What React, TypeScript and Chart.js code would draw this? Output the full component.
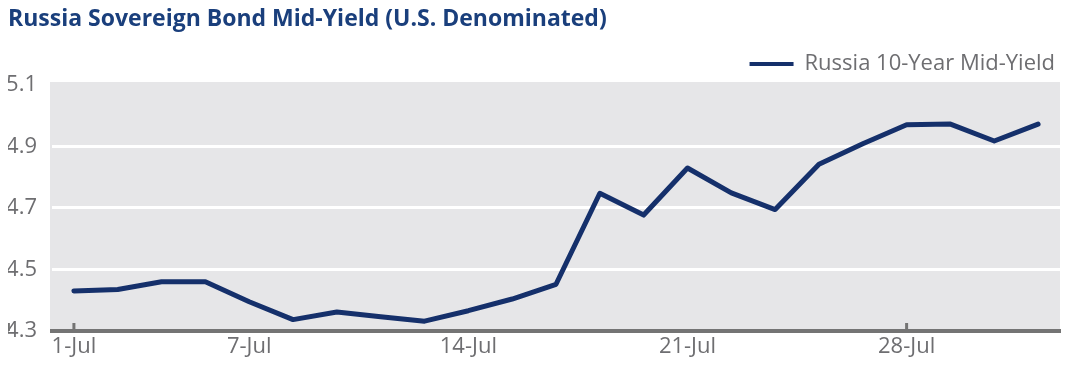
import React, { useEffect, useRef } from "react";
import { Chart, registerables } from "chart.js";

Chart.register(...registerables);

const TITLE = "Russia Sovereign Bond Mid-Yield (U.S. Denominated)";
const SERIES_NAME = "Russia 10-Year Mid-Yield";

// 23 trading days; only some carry a visible date label
const categories = [
  "1-Jul", "", "", "", "7-Jul",
  "", "", "", "", "14-Jul",
  "", "", "", "", "21-Jul",
  "", "", "", "", "28-Jul",
  "", "", "",
];

const yields = [
  4.43, 4.435, 4.46, 4.46, 4.395,
  4.337, 4.362, 4.346, 4.332, 4.366,
  4.404, 4.452, 4.748, 4.677, 4.83,
  4.749, 4.695, 4.842, 4.909, 4.971,
  4.973, 4.918, 4.973,
];

const yTicks = [4.3, 4.5, 4.7, 4.9, 5.1];

const NAVY = "#15306b";
const TITLE_COLOR = "#1a3f7c";
const GRAY_TEXT = "#6e6e71";
const AXIS = "#747474";
const PLOT_BG = "#e6e6e8";
const FONT = "'Open Sans', 'DejaVu Sans', sans-serif";

const bgPlugin = {
  id: "plotBg",
  beforeDraw(chart: any) {
    const { ctx, chartArea } = chart;
    ctx.save();
    ctx.fillStyle = PLOT_BG;
    ctx.fillRect(chartArea.left - 2, chartArea.top - 3, chartArea.right - chartArea.left + 2, chartArea.bottom - chartArea.top + 3);
    ctx.restore();
  },
};

const tickMarkPlugin = {
  id: "innerTicks",
  afterDraw(chart: any) {
    const { ctx, chartArea } = chart;
    const xs = chart.scales.x;
    ctx.save();
    ctx.strokeStyle = AXIS;
    ctx.lineWidth = 3;
    categories.forEach((c, i) => {
      if (!c) return;
      const px = xs.getPixelForTick(i);
      ctx.beginPath();
      ctx.moveTo(px, chartArea.bottom);
      ctx.lineTo(px, chartArea.bottom - 8);
      ctx.stroke();
    });
    ctx.restore();
  },
};

export default function App() {
  const ref = useRef<HTMLCanvasElement | null>(null);

  useEffect(() => {
    if (!ref.current) return;
    const chart = new Chart(ref.current, {
      type: "line",
      data: {
        labels: categories,
        datasets: [
          {
            label: SERIES_NAME,
            data: yields,
            borderColor: NAVY,
            backgroundColor: NAVY,
            borderWidth: 5,
            pointRadius: 0,
            tension: 0,
            borderCapStyle: "round",
            borderJoinStyle: "round",
          },
        ],
      },
      options: {
        animation: false,
        responsive: false,
        maintainAspectRatio: false,
        layout: { padding: { left: 0, right: 4, top: 0, bottom: 3 } },
        plugins: {
          title: {
            display: true,
            text: TITLE,
            align: "start",
            color: TITLE_COLOR,
            font: { family: FONT, size: 23, weight: "bold", lineHeight: 1 },
            padding: { top: 0, bottom: 17 },
          },
          legend: {
            display: true,
            position: "top",
            align: "end",
            labels: {
              boxWidth: 44,
              boxHeight: 4,
              color: GRAY_TEXT,
              font: { family: FONT, size: 22 },
              padding: 5,
              generateLabels: (c: any) =>
                c.data.datasets.map((d: any, i: number) => ({
                  text: d.label,
                  fillStyle: NAVY,
                  strokeStyle: NAVY,
                  lineWidth: 0,
                  fontColor: GRAY_TEXT,
                  hidden: false,
                  datasetIndex: i,
                })),
            },
          },
          tooltip: { enabled: false },
        },
        scales: {
          x: {
            offset: true,
            grid: { display: false, drawTicks: false },
            border: { display: true, color: AXIS, width: 4 },
            ticks: {
              autoSkip: false,
              maxRotation: 0,
              color: GRAY_TEXT,
              font: { family: FONT, size: 22, lineHeight: 1 },
              padding: 5,
              callback: (_v: any, i: number) => categories[i] || null,
            },
          },
          y: {
            min: 4.3,
            max: 5.1,
            afterFit: (s: any) => {
              s.width = 44;
            },
            afterBuildTicks: (s: any) => {
              s.ticks = yTicks.map((v) => ({ value: v }));
            },
            border: { display: false },
            grid: {
              drawTicks: false,
              lineWidth: 3,
              color: (c: any) =>
                c.tick && c.tick.value > 4.3 + 1e-6 && c.tick.value < 5.1 - 1e-6 ? "#ffffff" : "rgba(0,0,0,0)",
            },
            ticks: {
              color: GRAY_TEXT,
              font: { family: FONT, size: 22 },
              padding: 15,
              callback: (v: any) => Number(v).toFixed(1),
            },
          },
        },
      },
      plugins: [bgPlugin, tickMarkPlugin],
    });
    return () => chart.destroy();
  }, []);

  return (
    <canvas
      ref={ref}
      width={1056}
      height={358}
      style={{ display: "block", width: 1056, height: 358 }}
    />
  );
}
